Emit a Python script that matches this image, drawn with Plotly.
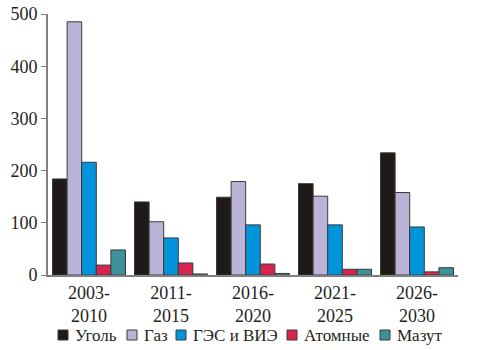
import plotly.graph_objects as go

categories = ["2003-<br>2010", "2011-<br>2015", "2016-<br>2020", "2021-<br>2025", "2026-<br>2030"]
series_names = ["Уголь", "Газ", "ГЭС и ВИЭ", "Атомные", "Мазут"]
coal = [184, 140, 149, 175, 234]
gas = [485, 102, 179, 151, 158]
hydro = [216, 71, 96, 96, 92]
nuclear = [19, 23, 21, 11, 6]
fuel_oil = [48, 2, 3, 11, 14]
colors = ["#1f1a17", "#b9b3d6", "#0095da", "#d9244f", "#3d9199"]

FONT = "Liberation Serif"
W, H = 480, 350
ML, MR, MT, MB = 48, 22, 14, 75
PW, PH = W - ML - MR, H - MT - MB

fig = go.Figure()
for name, vals, col in zip(series_names, [coal, gas, hydro, nuclear, fuel_oil], colors):
    fig.add_trace(go.Bar(x=categories, y=vals, name=name, showlegend=False,
                         marker=dict(color=col, line=dict(color="#3a3a3a", width=1))))

# custom one-row legend (pixel positions of the legend swatches)
legend_px = [58, 127, 176, 287, 380]
legend_py = 335
sw = 10
def px2x(px):
    return (px - ML) / PW
def py2y(py):
    return (H - MB - py) / PH

for name, col, lx in zip(series_names, colors, legend_px):
    fig.add_shape(type="rect", xref="paper", yref="paper",
                  x0=px2x(lx), x1=px2x(lx + sw),
                  y0=py2y(legend_py + sw / 2), y1=py2y(legend_py - sw / 2),
                  fillcolor=col, line=dict(color="#3a3a3a", width=1))
    fig.add_annotation(xref="paper", yref="paper", x=px2x(lx + sw + 5),
                       y=py2y(legend_py), text=name, showarrow=False,
                       xanchor="left", yanchor="middle",
                       font=dict(family=FONT, size=17, color="#231f20"))

fig.update_layout(
    width=W, height=H,
    margin=dict(l=ML, r=MR, t=MT, b=MB, autoexpand=False),
    barmode="group", bargap=0.11, bargroupgap=0,
    plot_bgcolor="white", paper_bgcolor="white",
    font=dict(family=FONT, size=17, color="#231f20"),
    showlegend=False,
)
fig.update_xaxes(showline=True, linecolor="#808080", linewidth=2, ticks="",
                 tickfont=dict(family=FONT, size=18), automargin=False)
fig.update_yaxes(range=[0, 500], tickvals=[0, 100, 200, 300, 400, 500],
                 showline=True, linecolor="#808080", linewidth=2,
                 ticks="outside", ticklen=5, tickcolor="#808080", showgrid=False,
                 zeroline=False, tickfont=dict(family=FONT, size=18), automargin=False)

fig.write_html("out.html")
